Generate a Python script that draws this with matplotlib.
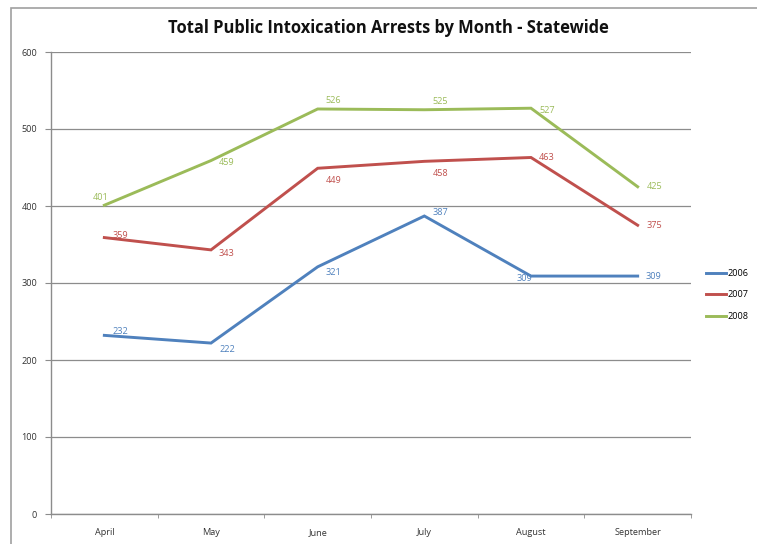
import matplotlib.pyplot as plt
from matplotlib.patches import Rectangle

months = ["April", "May", "June", "July", "August", "September"]
arrests_2006 = [232, 222, 321, 387, 309, 309]
arrests_2007 = [359, 343, 449, 458, 463, 375]
arrests_2008 = [401, 459, 526, 525, 527, 425]

# label offsets in pixels (dx, dy), chosen to mimic the original placement
offs_2006 = [(8, 4), (8, -6), (8, -6), (8, 4), (-14, -2), (8, 0)]
offs_2007 = [(8, 2), (8, -4), (8, -12), (8, -12), (8, 0), (9, 0)]
offs_2008 = [(-12, 8), (8, -2), (8, 8), (8, 8), (8, -2), (9, 0)]

colors = {"2006": "#4F81BD", "2007": "#C0504D", "2008": "#9BBB59"}
grid_col = "#8C8C8C"

plt.rcParams['font.family'] = ['Open Sans', 'DejaVu Sans']

fig = plt.figure(figsize=(7.57, 5.44), dpi=100)
fig.patches.append(Rectangle((11 / 757, -0.01), 1.0, 1 - 8 / 544 + 0.01,
                             transform=fig.transFigure, fill=False,
                             edgecolor="#A0A0A0", linewidth=1.2))
ax = fig.add_axes([51 / 757, 30 / 544, (691 - 51) / 757, (514 - 52) / 544])

x = list(range(len(months)))
series = [("2006", arrests_2006, offs_2006),
          ("2007", arrests_2007, offs_2007),
          ("2008", arrests_2008, offs_2008)]
for name, vals, offs in series:
    ax.plot(x, vals, color=colors[name], linewidth=2.1, label=name,
            solid_joinstyle='miter')
    for xi, v, (dx, dy) in zip(x, vals, offs):
        ax.annotate(str(v), (xi, v), xytext=(dx, dy), textcoords="offset pixels",
                    color=colors[name], fontsize=6.6, ha="left", va="center")

ax.set_xlim(-0.5, 5.5)
ax.set_ylim(0, 600)
ax.set_yticks(range(0, 601, 100))
ax.set_xticks(x)
ax.set_xticklabels(months)
ax.set_xticks([i - 0.5 for i in range(7)], minor=True)
ax.tick_params(axis="x", which="major", length=0, pad=10, labelsize=6.6, labelcolor="#333333")
ax.tick_params(axis="x", which="minor", length=3, color=grid_col)
ax.tick_params(axis="y", length=4, color=grid_col, labelsize=6.6, labelcolor="#333333", pad=6)
ax.grid(axis="y", color=grid_col, linewidth=0.9)
ax.set_axisbelow(True)
for s in ["top", "right"]:
    ax.spines[s].set_visible(False)
for s in ["left", "bottom"]:
    ax.spines[s].set_color(grid_col)
    ax.spines[s].set_linewidth(1.0)

fig.text(388 / 757, 1 - 28 / 544, "Total Public Intoxication Arrests by Month - Statewide",
         ha="center", va="center", fontsize=11.9, fontweight="bold", color="#111111")

leg = ax.legend(loc="center left", bbox_to_anchor=(698 / 757, 1 - 295 / 544),
                bbox_transform=fig.transFigure, frameon=False, fontsize=6.6,
                handlelength=2.2, handletextpad=0.1, labelspacing=1.35)

fig.savefig("out.png", dpi=100)
